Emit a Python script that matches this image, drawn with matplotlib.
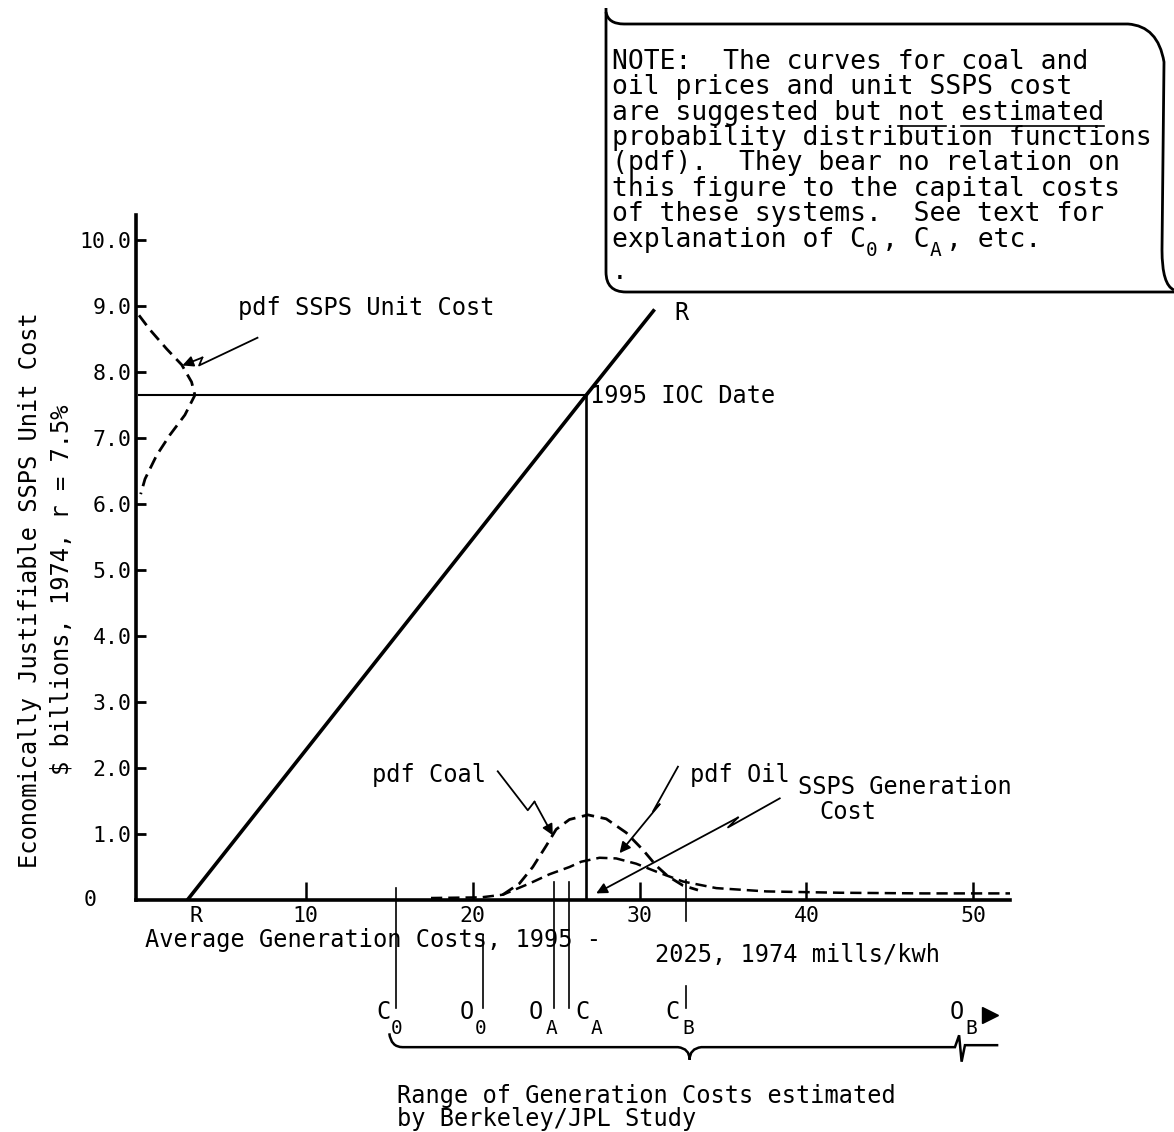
import matplotlib
matplotlib.use('Agg')
import matplotlib.pyplot as plt
from matplotlib.path import Path
from matplotlib.patches import PathPatch

plt.rcParams['font.family'] = ['DejaVu Sans Mono', 'DejaVu Sans']

# ---- data ---------------------------------------------------------------
y_ticks = [1, 2, 3, 4, 5, 6, 7, 8, 9, 10]
y_tick_labels = ['1.0', '2.0', '3.0', '4.0', '5.0', '6.0', '7.0', '8.0', '9.0', '10.0']
x_ticks = [3.4, 10, 20, 30, 40, 50]
x_tick_labels = ['R', '10', '20', '30', '40', '50']

# break-even line R and the 1995 IOC point
r_line_x = [2.9, 26.8, 30.9]
r_line_y = [0.0, 7.65, 8.95]
ioc_x = 26.8
ioc_y = 7.65

# pdf of SSPS unit cost (drawn sideways against the y axis)
ssps_pdf_y = [8.86, 8.64, 8.35, 8.11, 7.85, 7.65, 7.35, 7.05, 6.74, 6.38, 6.15]
ssps_pdf_w = [0.0, 0.66, 1.66, 2.56, 3.15, 3.35, 2.75, 1.86, 1.06, 0.36, 0.10]

# pdf coal / pdf oil along the cost axis
coal_x = [21.8, 22.8, 23.6, 24.4, 25.0, 25.8, 26.9, 28.0, 29.2, 30.2, 31.0, 31.7, 32.6, 33.5]
coal_y = [0.08, 0.25, 0.50, 0.82, 1.07, 1.22, 1.29, 1.23, 1.02, 0.76, 0.52, 0.36, 0.22, 0.15]
oil_x = [17.5, 20.5, 21.8, 23.4, 24.6, 25.8, 26.5, 27.6, 28.6, 29.8, 31.0, 32.6, 34.6, 37.6, 42.0, 47.0, 52.2]
oil_y = [0.03, 0.04, 0.08, 0.25, 0.39, 0.50, 0.58, 0.64, 0.63, 0.55, 0.43, 0.28, 0.18, 0.13, 0.11, 0.10, 0.10]

# cost markers below the axis
mark_names = ['C', 'O', 'O', 'C', 'C']
mark_subs = ['0', '0', 'A', 'A', 'B']
mark_x = [15.4, 20.6, 24.9, 25.8, 32.8]

note_lines = [
    'NOTE:  The curves for coal and',
    'oil prices and unit SSPS cost',
    'are suggested but not estimated',
    'probability distribution functions',
    '(pdf).  They bear no relation on',
    'this figure to the capital costs',
    'of these systems.  See text for',
]
# last note line, split around the subscripts
note_last = ['explanation of C', ', C', ', etc.']
note_last_subs = ['0', 'A']

FS = 17
TICK_FS = 15.5
DASH = (0, (4.5, 2.4))

fig = plt.figure(figsize=(11.74, 11.32), dpi=100)
ax = fig.add_axes([136 / 1174, 1 - 900 / 1132, 874 / 1174, 685 / 1132])
ax.patch.set_alpha(0)
ax.set_xlim(-0.18, 52.2)
ax.set_ylim(0, 10.38)
for s in ('top', 'right'):
    ax.spines[s].set_visible(False)
for s in ('left', 'bottom'):
    ax.spines[s].set_linewidth(2.6)

ax.set_yticks(y_ticks)
ax.set_yticklabels(y_tick_labels)
ax.set_xticks(x_ticks)
ax.set_xticklabels(x_tick_labels)
ax.tick_params(axis='y', direction='in', length=7, width=2, pad=3, labelsize=TICK_FS)
ax.tick_params(axis='x', direction='in', length=13, width=1.8, pad=4, labelsize=TICK_FS)
ax.xaxis.get_major_ticks()[0].tick1line.set_visible(False)
ax.text(-2.95, 0, '0', ha='center', va='center', fontsize=TICK_FS, clip_on=False)

# main lines
ax.plot(r_line_x, r_line_y, color='k', lw=2.6, solid_capstyle='butt')
ax.plot([0, ioc_x], [ioc_y, ioc_y], color='k', lw=1.5)
ax.plot([ioc_x, ioc_x], [0, ioc_y], color='k', lw=1.9)

# pdf curves
ax.plot(ssps_pdf_w, ssps_pdf_y, color='k', lw=2.0, ls=DASH, clip_on=False)
ax.plot(coal_x, coal_y, color='k', lw=2.0, ls=DASH)
ax.plot(oil_x, oil_y, color='k', lw=1.8, ls=DASH)


def bolt(pts, tip):
    xs = [p[0] for p in pts]
    ys = [p[1] for p in pts]
    ax.plot(xs, ys, color='k', lw=1.3, clip_on=False)
    ax.annotate('', xy=tip, xytext=pts[-1],
                arrowprops=dict(arrowstyle='-|>', lw=1.3, color='k',
                                mutation_scale=16, shrinkA=0, shrinkB=0))


bolt([(7.1, 8.52), (3.6, 8.10), (3.8, 8.22)], (2.6, 8.1))
bolt([(21.5, 1.95), (23.3, 1.36), (23.7, 1.49)], (24.8, 0.98))
bolt([(32.3, 2.02), (30.8, 1.34), (31.2, 1.45)], (28.8, 0.71))
bolt([(38.4, 1.54), (35.3, 1.10), (35.9, 1.25)], (27.4, 0.10))

# labels inside the plot
ax.text(5.93, 8.97, 'pdf SSPS Unit Cost', fontsize=FS, va='center')
ax.text(27.0, ioc_y - 0.02, '1995 IOC Date', fontsize=FS, va='center')
ax.text(32.1, 8.9, 'R', fontsize=FS, va='center')
ax.text(13.95, 1.89, 'pdf Coal', fontsize=FS, va='center')
ax.text(33.0, 1.89, 'pdf Oil', fontsize=FS, va='center')
ax.text(39.5, 1.71, 'SSPS Generation', fontsize=FS, va='center')
ax.text(40.8, 1.33, 'Cost', fontsize=FS, va='center')

# x axis title (split as in the original)
ax.text(0.36, -0.61, 'Average Generation Costs, 1995 -', fontsize=FS, va='center', clip_on=False)
ax.text(30.9, -0.83, '2025, 1974 mills/kwh', fontsize=FS, va='center', clip_on=False)

# cost markers below the axis
line_tops = [0.18, -0.53, 0.27, 0.27, -1.30]
for x, top in zip(mark_x, line_tops):
    ax.plot([x, x], [top, -1.64], color='k', lw=1.2, clip_on=False)
ax.plot([32.8, 32.8], [0.3, -0.32], color='k', lw=1.2, clip_on=False)
name_dx = [-0.75, -0.95, -1.1, 0.8, -0.8]
sub_dx = [0.05, -0.1, -0.2, 1.6, 0.1]
for name, sub, x, ndx, sdx in zip(mark_names, mark_subs, mark_x, name_dx, sub_dx):
    ax.text(x + ndx, -1.70, name, fontsize=FS, ha='center', va='center', clip_on=False)
    ax.text(x + sdx, -1.95, sub, fontsize=14, ha='center', va='center', clip_on=False)
ax.text(49.0, -1.70, 'O', fontsize=FS, ha='center', va='center', clip_on=False)
ax.text(49.9, -1.95, 'B', fontsize=14, ha='center', va='center', clip_on=False)
ax.plot([51.0], [-1.74], marker='>', color='k', ms=11, clip_on=False)

# brace for the Berkeley/JPL range
bv = [(15.0, -2.02), (15.1, -2.23), (15.8, -2.23), (32.3, -2.23), (33.0, -2.25),
      (33.0, -2.42), (33.0, -2.25), (33.7, -2.23), (48.9, -2.23),
      (49.15, -2.05), (49.3, -2.45), (49.5, -2.2), (51.5, -2.2)]
bc = [Path.MOVETO, Path.CURVE3, Path.CURVE3, Path.LINETO, Path.CURVE3, Path.CURVE3,
      Path.CURVE3, Path.CURVE3, Path.LINETO, Path.LINETO, Path.LINETO, Path.LINETO,
      Path.LINETO]
ax.add_patch(PathPatch(Path(bv, bc), fill=False, lw=1.8, color='k', clip_on=False))
ax.text(15.45, -3.15, 'Range of Generation Costs estimated\nby Berkeley/JPL Study',
        fontsize=FS, va='center', linespacing=0.95, clip_on=False)

# ---- overlay in pixel coordinates: y-label and the note box ---------------
ov = fig.add_axes([0, 0, 1, 1], zorder=5)
ov.patch.set_alpha(0)
ov.set_xlim(0, 1174)
ov.set_ylim(1132, 0)
ov.axis('off')

ov.text(30, 590, 'Economically Justifiable SSPS Unit Cost', rotation=90,
        fontsize=FS, ha='center', va='center')
ov.text(62, 590, r'\$ billions, 1974, r = 7.5%', rotation=90,
        fontsize=FS, ha='center', va='center')

p1 = Path([(606, 8), (606, 272), (606, 292), (626, 292), (1174, 292)],
          [Path.MOVETO, Path.LINETO, Path.CURVE3, Path.CURVE3, Path.LINETO])
p2 = Path([(606, 12), (608, 24), (624, 24), (1128, 24), (1158, 26), (1164, 62),
           (1162, 250), (1162, 285), (1174, 290)],
          [Path.MOVETO, Path.CURVE3, Path.CURVE3, Path.LINETO, Path.CURVE3,
           Path.CURVE3, Path.LINETO, Path.CURVE3, Path.CURVE3])
for p in (p1, p2):
    ov.add_patch(PathPatch(p, fill=False, lw=2.0, color='k'))

NOTE_FS = 19
cw = 0.602 * NOTE_FS * 100 / 72
x0 = 612
line_y = [62, 87, 113, 138, 163, 189, 214, 240]
for txt, y in zip(note_lines, line_y):
    ov.text(x0, y, txt, fontsize=NOTE_FS, ha='left', va='center')
# underlines on "not" and "estimated"
ov.plot([x0 + 18 * cw, x0 + 21 * cw], [line_y[2] + 13] * 2, color='k', lw=1.2)
ov.plot([x0 + 22 * cw, x0 + 31 * cw], [line_y[2] + 13] * 2, color='k', lw=1.2)
# last line with subscripts
y7 = line_y[7]
ov.text(x0, y7, note_last[0], fontsize=NOTE_FS, ha='left', va='center')
ov.text(x0 + 16 * cw, y7 + 10, note_last_subs[0], fontsize=14, ha='left', va='center')
ov.text(x0 + 17 * cw, y7, note_last[1], fontsize=NOTE_FS, ha='left', va='center')
ov.text(x0 + 20 * cw, y7 + 10, note_last_subs[1], fontsize=14, ha='left', va='center')
ov.text(x0 + 21 * cw, y7, note_last[2], fontsize=NOTE_FS, ha='left', va='center')
ov.text(x0, 272, '.', fontsize=NOTE_FS, ha='left', va='center')

fig.savefig('out.png', dpi=100)
